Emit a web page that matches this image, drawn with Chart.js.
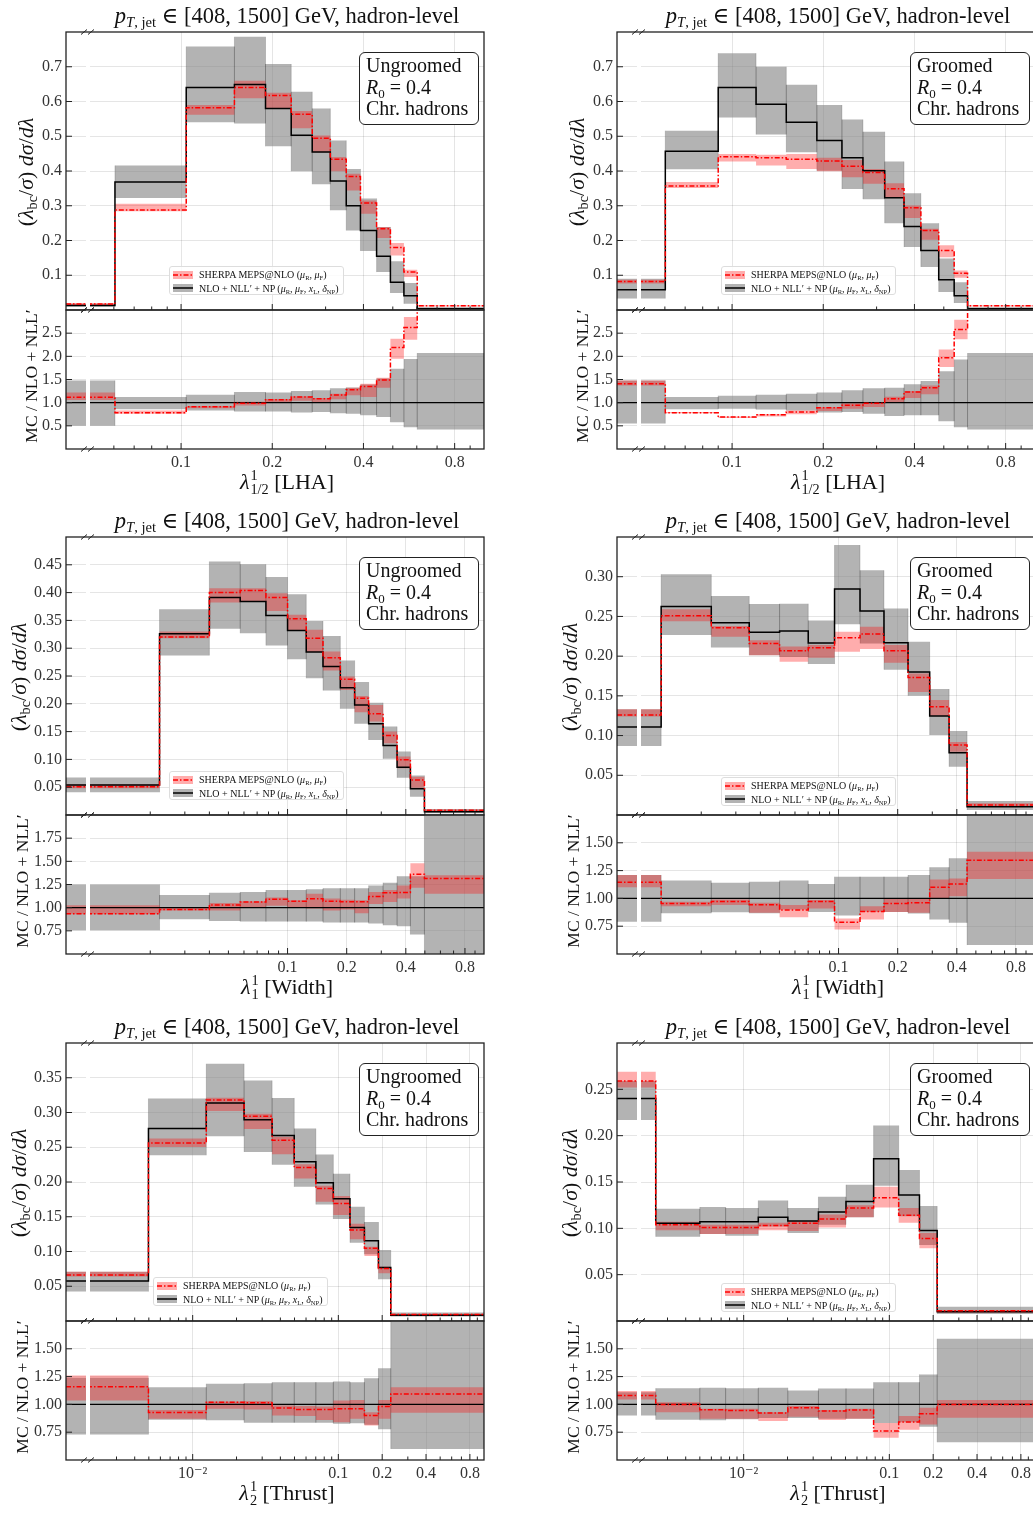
<!DOCTYPE html>
<html>
<head>
<meta charset="utf-8">
<script src="https://cdn.jsdelivr.net/npm/chart.js@4.4.0/dist/chart.umd.min.js"></script>
<style>
  body { margin: 0; width: 1033px; height: 1517px; overflow: hidden; background: #fff; position: relative;
         font-family: "Liberation Serif", "DejaVu Serif", serif; color: #111; }
  canvas { position: absolute; }
  .txt { position: absolute; white-space: nowrap; transform: translate(-50%, -50%); }
  .title { font-size: 22.5px; }
  .xtitle { font-size: 22px; }
  .ytitle { font-size: 22px; transform: translate(-50%, -50%) rotate(-90deg); }
  .rtitle { font-size: 17.5px; transform: translate(-50%, -50%) rotate(-90deg); }
  .ss { display: inline-block; vertical-align: -0.32em; font-size: 0.65em; line-height: 0.95; margin-left: 1px; }
  .ss span { display: block; }
  sub { font-size: 0.65em; vertical-align: -0.3em; line-height: 0; }
  .tbox { position: absolute; box-sizing: border-box; width: 120px; height: 73px; border: 1px solid #222;
          border-radius: 6px; background: #fff; font-size: 20px; line-height: 21.5px; padding: 2px 6px; }
  .legend { position: absolute; box-sizing: border-box; width: 175px; height: 29px; border: 1px solid #ddd;
            border-radius: 3px; background: rgba(255,255,255,0.85); font-size: 10px; padding: 1px 3px;
            white-space: nowrap; overflow: visible; }
  .legend div { height: 13.5px; line-height: 13.5px; display: flex; align-items: center; }
  .legend span { white-space: nowrap; flex: none; }
  .legend svg { margin-right: 6px; flex: none; }
</style>
</head>
<body>
<script>
// ---- axis setups ----
const lhaRange = [0.0417, 1.0];
const widthRange = [0.00745, 1.0];
const thrustRange = [0.00135, 1.0];
const lhaMajor = [0.1, 0.2, 0.4, 0.8];
const lhaMinor = [0.05, 0.06, 0.07, 0.08, 0.09, 0.3, 0.5, 0.6, 0.7, 0.9];
const widthMajor = [0.1, 0.2, 0.4, 0.8];
const widthMinor = [0.02, 0.03, 0.04, 0.05, 0.06, 0.07, 0.08, 0.09, 0.3, 0.5, 0.6, 0.7, 0.9];
const thrustMajor = [0.01, 0.1, 0.2, 0.4, 0.8];
const thrustMinor = [0.002, 0.003, 0.004, 0.005, 0.006, 0.007, 0.008, 0.009, 0.02, 0.03, 0.04, 0.05, 0.06, 0.07, 0.08, 0.09, 0.3, 0.5, 0.6, 0.7, 0.9];

// ---- LHA, ungroomed ----
const lhaUngEdges = [0.0417, 0.0605, 0.104, 0.150, 0.190, 0.231, 0.271, 0.311, 0.351, 0.391, 0.442, 0.491, 0.544, 0.602, 1.0];
const lhaUngNlo   = [0.013, 0.368, 0.640, 0.649, 0.580, 0.503, 0.455, 0.371, 0.300, 0.229, 0.155, 0.080, 0.041, 0.004];
const lhaUngNloLo = [0.009, 0.322, 0.540, 0.537, 0.471, 0.399, 0.362, 0.287, 0.229, 0.170, 0.109, 0.049, 0.018, 0.002];
const lhaUngNloHi = [0.018, 0.416, 0.758, 0.786, 0.708, 0.628, 0.580, 0.488, 0.406, 0.321, 0.239, 0.140, 0.078, 0.006];
const lhaUngMc    = [0.017, 0.288, 0.582, 0.640, 0.617, 0.563, 0.494, 0.434, 0.384, 0.308, 0.234, 0.180, 0.109, 0.012];
const lhaUngMcLo  = [0.014, 0.284, 0.562, 0.609, 0.580, 0.523, 0.454, 0.399, 0.344, 0.277, 0.207, 0.157, 0.095, 0.010];
const lhaUngMcHi  = [0.020, 0.306, 0.590, 0.660, 0.625, 0.573, 0.502, 0.440, 0.392, 0.315, 0.239, 0.193, 0.116, 0.014];
const lhaUngRatio   = [1.115, 0.78, 0.91, 0.99, 1.065, 1.12, 1.085, 1.165, 1.28, 1.35, 1.49, 2.19, 2.62, 4.0];
const lhaUngRatioLo = [1.06, 0.76, 0.88, 0.94, 1.0, 1.04, 1.0, 1.075, 1.16, 1.12, 1.32, 1.95, 2.36, 4.0];
const lhaUngRatioHi = [1.22, 0.83, 0.93, 1.02, 1.08, 1.14, 1.10, 1.19, 1.32, 1.41, 1.54, 2.38, 2.85, 4.0];
const lhaUngUncLo   = [0.50, 0.86, 0.83, 0.81, 0.81, 0.79, 0.80, 0.77, 0.76, 0.73, 0.69, 0.58, 0.47, 0.42];
const lhaUngUncHi   = [1.48, 1.12, 1.17, 1.23, 1.22, 1.25, 1.27, 1.31, 1.33, 1.39, 1.52, 1.73, 1.94, 2.07];

// ---- LHA, groomed ----
const lhaGroEdges = [0.0417, 0.0602, 0.090, 0.120, 0.151, 0.1905, 0.2305, 0.2704, 0.319, 0.3695, 0.420, 0.481, 0.541, 0.599, 1.0];
const lhaGroNlo   = [0.058, 0.457, 0.640, 0.592, 0.540, 0.488, 0.438, 0.401, 0.323, 0.240, 0.171, 0.087, 0.041, 0.004];
const lhaGroNloLo = [0.033, 0.405, 0.554, 0.505, 0.454, 0.401, 0.348, 0.319, 0.250, 0.181, 0.124, 0.052, 0.020, 0.002];
const lhaGroNloHi = [0.090, 0.516, 0.739, 0.700, 0.648, 0.590, 0.548, 0.513, 0.427, 0.336, 0.250, 0.148, 0.080, 0.006];
const lhaGroMc    = [0.082, 0.357, 0.441, 0.438, 0.434, 0.429, 0.414, 0.396, 0.349, 0.294, 0.229, 0.171, 0.106, 0.012];
const lhaGroMcLo  = [0.076, 0.351, 0.427, 0.416, 0.406, 0.399, 0.382, 0.363, 0.325, 0.265, 0.202, 0.152, 0.093, 0.010];
const lhaGroMcHi  = [0.087, 0.368, 0.449, 0.447, 0.449, 0.438, 0.432, 0.406, 0.365, 0.301, 0.234, 0.186, 0.114, 0.014];
const lhaGroRatio   = [1.41, 0.78, 0.69, 0.74, 0.80, 0.89, 0.945, 0.99, 1.085, 1.23, 1.32, 1.97, 2.58, 4.0];
const lhaGroRatioLo = [1.37, 0.77, 0.67, 0.70, 0.75, 0.82, 0.87, 0.905, 1.0, 1.10, 1.18, 1.77, 2.37, 4.0];
const lhaGroRatioHi = [1.48, 0.80, 0.70, 0.755, 0.83, 0.90, 0.99, 1.01, 1.13, 1.25, 1.37, 2.15, 2.79, 4.0];
const lhaGroUncLo   = [0.55, 0.86, 0.87, 0.85, 0.83, 0.79, 0.80, 0.76, 0.71, 0.73, 0.73, 0.60, 0.47, 0.42];
const lhaGroUncHi   = [1.48, 1.12, 1.15, 1.17, 1.19, 1.22, 1.27, 1.31, 1.32, 1.40, 1.47, 1.68, 1.93, 2.07];

// ---- Width, ungroomed ----
const widUngEdges = [0.00745, 0.0223, 0.040, 0.0574, 0.0776, 0.100, 0.1245, 0.1515, 0.1856, 0.2195, 0.2587, 0.3064, 0.361, 0.422, 0.4975, 1.0];
const widUngNlo   = [0.054, 0.326, 0.391, 0.384, 0.359, 0.332, 0.293, 0.267, 0.229, 0.198, 0.164, 0.125, 0.086, 0.047, 0.006];
const widUngNloLo = [0.041, 0.287, 0.335, 0.327, 0.305, 0.280, 0.246, 0.224, 0.191, 0.164, 0.135, 0.101, 0.067, 0.033, 0.003];
const widUngNloHi = [0.0675, 0.370, 0.456, 0.451, 0.428, 0.397, 0.349, 0.322, 0.278, 0.239, 0.202, 0.159, 0.114, 0.071, 0.011];
const widUngMc    = [0.0507, 0.320, 0.400, 0.404, 0.391, 0.353, 0.318, 0.283, 0.244, 0.210, 0.182, 0.143, 0.0993, 0.063, 0.0087];
const widUngMcLo  = [0.048, 0.318, 0.382, 0.384, 0.367, 0.331, 0.293, 0.260, 0.225, 0.185, 0.168, 0.129, 0.084, 0.049, 0.007];
const widUngMcHi  = [0.055, 0.330, 0.408, 0.408, 0.399, 0.360, 0.333, 0.294, 0.249, 0.214, 0.198, 0.150, 0.105, 0.069, 0.010];
const widUngRatio   = [0.935, 0.98, 1.03, 1.06, 1.09, 1.07, 1.095, 1.07, 1.065, 1.065, 1.12, 1.16, 1.165, 1.36, 1.315];
const widUngRatioLo = [0.93, 0.97, 0.97, 1.0, 1.02, 1.0, 0.99, 0.97, 0.98, 0.94, 1.04, 1.06, 1.10, 1.215, 1.15];
const widUngRatioHi = [1.025, 1.0, 1.05, 1.07, 1.11, 1.08, 1.15, 1.10, 1.085, 1.08, 1.17, 1.19, 1.24, 1.48, 1.35];
const widUngUncLo   = [0.756, 0.875, 0.857, 0.85, 0.85, 0.85, 0.85, 0.84, 0.84, 0.84, 0.83, 0.81, 0.80, 0.71, 0.40];
const widUngUncHi   = [1.25, 1.136, 1.16, 1.17, 1.19, 1.19, 1.20, 1.21, 1.21, 1.21, 1.24, 1.27, 1.34, 1.34, 2.10];

// ---- Width, groomed ----
const widGroEdges = [0.00745, 0.0125, 0.0225, 0.0351, 0.0501, 0.0701, 0.0954, 0.1286, 0.1703, 0.2258, 0.291, 0.3654, 0.451, 1.0];
const widGroNlo   = [0.1107, 0.2626, 0.242, 0.230, 0.2315, 0.2164, 0.2844, 0.2567, 0.2169, 0.180, 0.1246, 0.0784, 0.0105];
const widGroNloLo = [0.087, 0.2265, 0.211, 0.201, 0.199, 0.190, 0.240, 0.216, 0.183, 0.150, 0.1007, 0.0608, 0.0063];
const widGroNloHi = [0.133, 0.303, 0.2756, 0.2655, 0.266, 0.245, 0.3398, 0.308, 0.260, 0.218, 0.1586, 0.1057, 0.0176];
const widGroMc    = [0.126, 0.251, 0.2357, 0.216, 0.2068, 0.2106, 0.2232, 0.2278, 0.2068, 0.1732, 0.1363, 0.088, 0.0126];
const widGroMcLo  = [0.124, 0.244, 0.2244, 0.201, 0.193, 0.198, 0.2055, 0.209, 0.1917, 0.155, 0.125, 0.0797, 0.0105];
const widGroMcHi  = [0.133, 0.259, 0.238, 0.220, 0.212, 0.214, 0.2307, 0.237, 0.214, 0.178, 0.1447, 0.092, 0.0147];
const widGroRatio   = [1.145, 0.955, 0.973, 0.943, 0.895, 0.973, 0.786, 0.882, 0.955, 0.96, 1.10, 1.13, 1.343];
const widGroRatioLo = [1.10, 0.93, 0.94, 0.87, 0.83, 0.91, 0.72, 0.81, 0.877, 0.87, 1.0, 1.02, 1.175];
const widGroRatioHi = [1.21, 0.97, 0.99, 0.96, 0.94, 0.985, 0.82, 0.93, 1.0, 1.0, 1.17, 1.18, 1.42];
const widGroUncLo   = [0.79, 0.867, 0.876, 0.867, 0.90, 0.877, 0.846, 0.88, 0.877, 0.865, 0.81, 0.78, 0.58];
const widGroUncHi   = [1.21, 1.16, 1.14, 1.15, 1.16, 1.13, 1.195, 1.195, 1.195, 1.21, 1.28, 1.36, 1.80];

// ---- Thrust, ungroomed ----
const thrUngEdges = [0.00135, 0.00497, 0.0124, 0.02254, 0.0351, 0.0498, 0.0701, 0.0924, 0.1202, 0.151, 0.1885, 0.229, 1.0];
const thrUngNlo   = [0.0577, 0.277, 0.3136, 0.2897, 0.267, 0.229, 0.1988, 0.1758, 0.1347, 0.1155, 0.0768, 0.0084];
const thrUngNloLo = [0.0423, 0.2385, 0.266, 0.2433, 0.225, 0.193, 0.1677, 0.1467, 0.1127, 0.0959, 0.060, 0.0065];
const thrUngNloHi = [0.071, 0.320, 0.370, 0.346, 0.321, 0.2768, 0.2395, 0.212, 0.1643, 0.1423, 0.102, 0.0122];
const thrUngMc    = [0.0663, 0.256, 0.318, 0.2945, 0.260, 0.2208, 0.1906, 0.169, 0.1309, 0.1045, 0.0754, 0.0093];
const thrUngMcLo  = [0.064, 0.2505, 0.302, 0.2763, 0.240, 0.205, 0.1715, 0.1524, 0.1175, 0.0935, 0.0687, 0.0078];
const thrUngMcHi  = [0.071, 0.2625, 0.3213, 0.2983, 0.265, 0.2256, 0.1945, 0.1797, 0.140, 0.107, 0.078, 0.0105];
const thrUngRatio   = [1.158, 0.928, 1.02, 1.015, 0.967, 0.955, 0.955, 0.96, 0.96, 0.90, 0.98, 1.093];
const thrUngRatioLo = [1.036, 0.87, 0.96, 0.955, 0.90, 0.895, 0.86, 0.84, 0.87, 0.81, 0.87, 0.925];
const thrUngRatioHi = [1.26, 0.95, 1.025, 1.03, 0.99, 0.985, 0.98, 1.035, 1.04, 0.93, 1.04, 1.155];
const thrUngUncLo   = [0.73, 0.863, 0.857, 0.836, 0.836, 0.836, 0.836, 0.827, 0.83, 0.818, 0.776, 0.60];
const thrUngUncHi   = [1.24, 1.155, 1.185, 1.19, 1.20, 1.20, 1.20, 1.205, 1.20, 1.236, 1.325, 1.80];

// ---- Thrust, groomed ----
const thrGroEdges = [0.00135, 0.00249, 0.0050, 0.00752, 0.0126, 0.0201, 0.0326, 0.0504, 0.078, 0.1159, 0.161, 0.213, 1.0];
const thrGroNlo   = [0.240, 0.1056, 0.107, 0.107, 0.112, 0.108, 0.1175, 0.129, 0.175, 0.136, 0.0977, 0.010];
const thrGroNloLo = [0.217, 0.091, 0.094, 0.092, 0.102, 0.095, 0.104, 0.112, 0.146, 0.113, 0.082, 0.0076];
const thrGroNloHi = [0.259, 0.121, 0.123, 0.122, 0.130, 0.122, 0.134, 0.147, 0.211, 0.163, 0.124, 0.0155];
const thrGroMc    = [0.259, 0.104, 0.101, 0.101, 0.103, 0.1056, 0.110, 0.122, 0.133, 0.114, 0.089, 0.011];
const thrGroMcLo  = [0.252, 0.098, 0.094, 0.094, 0.098, 0.097, 0.101, 0.112, 0.1226, 0.106, 0.0786, 0.009];
const thrGroMcHi  = [0.269, 0.107, 0.104, 0.104, 0.106, 0.108, 0.115, 0.125, 0.145, 0.122, 0.095, 0.012];
const thrGroRatio   = [1.08, 1.0, 0.952, 0.946, 0.922, 0.97, 0.94, 0.95, 0.76, 0.842, 0.916, 1.0];
const thrGroRatioLo = [1.045, 0.93, 0.87, 0.87, 0.85, 0.89, 0.86, 0.87, 0.70, 0.773, 0.82, 0.88];
const thrGroRatioHi = [1.12, 1.02, 0.96, 0.96, 0.93, 0.985, 0.95, 0.96, 0.833, 0.895, 0.97, 1.04];
const thrGroUncLo   = [0.90, 0.863, 0.857, 0.866, 0.878, 0.878, 0.87, 0.87, 0.833, 0.84, 0.80, 0.66];
const thrGroUncHi   = [1.11, 1.146, 1.15, 1.146, 1.15, 1.125, 1.143, 1.143, 1.20, 1.20, 1.27, 1.59];

// ---- y tick labels ----
const lhaMainTicks = [0.1, 0.2, 0.3, 0.4, 0.5, 0.6, 0.7];
const widUngMainTicks = [0.05, 0.10, 0.15, 0.20, 0.25, 0.30, 0.35, 0.40, 0.45];
const widGroMainTicks = [0.05, 0.10, 0.15, 0.20, 0.25, 0.30];
const thrUngMainTicks = [0.05, 0.10, 0.15, 0.20, 0.25, 0.30, 0.35];
const thrGroMainTicks = [0.05, 0.10, 0.15, 0.20, 0.25];
const lhaRatioTicks = [0.5, 1.0, 1.5, 2.0, 2.5];
const widUngRatioTicks = [0.75, 1.00, 1.25, 1.50, 1.75];
const smallRatioTicks = [0.75, 1.00, 1.25, 1.50];

const FONT = '"Liberation Serif", "DejaVu Serif", serif';
const COLS = [66, 617];
const ROWS = [32, 537, 1043];
const MAIN_H = 278, RATIO_H = 139, PLOT_W = 418, AXIS_W = 66, PAD = 14, XLAB_H = 30;
const GRAY = 'rgba(128,128,128,0.6)';
const PINK = 'rgba(255,0,0,0.32)';

const LHA_T = '<i>λ</i><span class="ss"><span>1</span><span>1/2</span></span> [LHA]';
const WID_T = '<i>λ</i><span class="ss"><span>1</span><span>1</span></span> [Width]';
const THR_T = '<i>λ</i><span class="ss"><span>1</span><span>2</span></span> [Thrust]';

const panels = [
    { col: 0, row: 0, tag: 'Ungroomed', xTitle: LHA_T, range: lhaRange, majors: lhaMajor, minors: lhaMinor,
      edges: lhaUngEdges, nlo: lhaUngNlo, nloLo: lhaUngNloLo, nloHi: lhaUngNloHi, mc: lhaUngMc, mcLo: lhaUngMcLo, mcHi: lhaUngMcHi,
      ratio: lhaUngRatio, ratioLo: lhaUngRatioLo, ratioHi: lhaUngRatioHi, uncLo: lhaUngUncLo, uncHi: lhaUngUncHi,
      yMax: 0.8, yTicks: lhaMainTicks, yDec: 1, rMin: 0, rMax: 3, rTicks: lhaRatioTicks, rDec: 1, leg: [103, 234] },
    { col: 1, row: 0, tag: 'Groomed', xTitle: LHA_T, range: lhaRange, majors: lhaMajor, minors: lhaMinor,
      edges: lhaGroEdges, nlo: lhaGroNlo, nloLo: lhaGroNloLo, nloHi: lhaGroNloHi, mc: lhaGroMc, mcLo: lhaGroMcLo, mcHi: lhaGroMcHi,
      ratio: lhaGroRatio, ratioLo: lhaGroRatioLo, ratioHi: lhaGroRatioHi, uncLo: lhaGroUncLo, uncHi: lhaGroUncHi,
      yMax: 0.8, yTicks: lhaMainTicks, yDec: 1, rMin: 0, rMax: 3, rTicks: lhaRatioTicks, rDec: 1, leg: [104, 234] },
    { col: 0, row: 1, tag: 'Ungroomed', xTitle: WID_T, range: widthRange, majors: widthMajor, minors: widthMinor,
      edges: widUngEdges, nlo: widUngNlo, nloLo: widUngNloLo, nloHi: widUngNloHi, mc: widUngMc, mcLo: widUngMcLo, mcHi: widUngMcHi,
      ratio: widUngRatio, ratioLo: widUngRatioLo, ratioHi: widUngRatioHi, uncLo: widUngUncLo, uncHi: widUngUncHi,
      yMax: 0.5, yTicks: widUngMainTicks, yDec: 2, rMin: 0.5, rMax: 2.0, rTicks: widUngRatioTicks, rDec: 2, leg: [103, 234] },
    { col: 1, row: 1, tag: 'Groomed', xTitle: WID_T, range: widthRange, majors: widthMajor, minors: widthMinor,
      edges: widGroEdges, nlo: widGroNlo, nloLo: widGroNloLo, nloHi: widGroNloHi, mc: widGroMc, mcLo: widGroMcLo, mcHi: widGroMcHi,
      ratio: widGroRatio, ratioLo: widGroRatioLo, ratioHi: widGroRatioHi, uncLo: widGroUncLo, uncHi: widGroUncHi,
      yMax: 0.35, yTicks: widGroMainTicks, yDec: 2, rMin: 0.5, rMax: 1.75, rTicks: smallRatioTicks, rDec: 2, leg: [104, 240] },
    { col: 0, row: 2, tag: 'Ungroomed', xTitle: THR_T, range: thrustRange, majors: thrustMajor, minors: thrustMinor,
      edges: thrUngEdges, nlo: thrUngNlo, nloLo: thrUngNloLo, nloHi: thrUngNloHi, mc: thrUngMc, mcLo: thrUngMcLo, mcHi: thrUngMcHi,
      ratio: thrUngRatio, ratioLo: thrUngRatioLo, ratioHi: thrUngRatioHi, uncLo: thrUngUncLo, uncHi: thrUngUncHi,
      yMax: 0.4, yTicks: thrUngMainTicks, yDec: 2, rMin: 0.5, rMax: 1.75, rTicks: smallRatioTicks, rDec: 2, leg: [87, 234] },
    { col: 1, row: 2, tag: 'Groomed', xTitle: THR_T, range: thrustRange, majors: thrustMajor, minors: thrustMinor,
      edges: thrGroEdges, nlo: thrGroNlo, nloLo: thrGroNloLo, nloHi: thrGroNloHi, mc: thrGroMc, mcLo: thrGroMcLo, mcHi: thrGroMcHi,
      ratio: thrGroRatio, ratioLo: thrGroRatioLo, ratioHi: thrGroRatioHi, uncLo: thrGroUncLo, uncHi: thrGroUncHi,
      yMax: 0.30, yTicks: thrGroMainTicks, yDec: 2, rMin: 0.5, rMax: 1.75, rTicks: smallRatioTicks, rDec: 2, leg: [104, 240] }
];

/*== histogram helpers ==*/
function steps(edges, vals) {
    return edges.map((e, i) => ({ x: e, y: vals[Math.min(i, vals.length - 1)] }));
}

function histLine(edges, vals, color, width, dash) {
    return { data: steps(edges, vals), stepped: 'before', borderColor: color, borderWidth: width,
             borderDash: dash || [], pointRadius: 0, fill: false };
}

function band(edges, lo, hi, color) {
    return [
        { data: steps(edges, hi), stepped: 'before', borderColor: 'transparent', borderWidth: 0,
          backgroundColor: color, pointRadius: 0, fill: '+1' },
        { data: steps(edges, lo), stepped: 'before', borderColor: 'transparent', borderWidth: 0,
          pointRadius: 0, fill: false }
    ];
}

// thin darker sides of every uncertainty box
function boxSides(edges, lo, hi) {
    const pts = [];
    lo.forEach((l, i) => {
        [edges[i], edges[i + 1]].forEach(e => {
            pts.push({ x: e, y: l }, { x: e, y: hi[i] }, { x: e, y: null });
        });
    });
    return { data: pts, borderColor: 'rgba(0,0,0,0.16)', borderWidth: 1, pointRadius: 0, fill: false };
}

/*== scales ==*/
function xScale(p, labels) {
    return {
        type: 'logarithmic', min: p.range[0], max: p.range[1],
        afterBuildTicks: s => { s.ticks = p.majors.map(v => ({ value: v })); },
        afterFit: s => { s.height = labels ? XLAB_H : 0; },
        ticks: { display: labels, autoSkip: false, maxRotation: 0, padding: 4, color: '#333',
                 font: { family: FONT, size: 16 },
                 callback: v => v === 0.01 ? '10⁻²' : String(v) },
        grid: { color: 'rgba(0,0,0,0.1)', drawTicks: false },
        border: { display: false }
    };
}

function yScale(min, max, ticks, dec) {
    return {
        type: 'linear', min: min, max: max,
        afterBuildTicks: s => { s.ticks = ticks.map(v => ({ value: v })); },
        afterFit: s => { s.width = AXIS_W; },
        ticks: { autoSkip: false, padding: 4, color: '#333', font: { family: FONT, size: 16 },
                 callback: v => v.toFixed(dec) },
        grid: { color: 'rgba(0,0,0,0.1)', drawTicks: false },
        border: { display: false }
    };
}

/*== frame, inward ticks and the axis break ==*/
function decor(p) {
    return {
        id: 'decor',
        afterDatasetsDraw(chart) {
            const { ctx, chartArea: a, scales: { x, y } } = chart;
            const gap = a.left + 20;
            ctx.save();
            ctx.fillStyle = '#fff';
            ctx.fillRect(gap, a.top, 4, a.bottom - a.top);

            ctx.strokeStyle = '#222';
            ctx.lineWidth = 1;
            ctx.beginPath();
            p.majors.forEach(v => {
                const px = x.getPixelForValue(v);
                ctx.moveTo(px, a.bottom); ctx.lineTo(px, a.bottom - 6);
            });
            p.minors.forEach(v => {
                const px = x.getPixelForValue(v);
                if (px < gap + 5 || px > a.right) return;
                ctx.moveTo(px, a.bottom); ctx.lineTo(px, a.bottom - 3.5);
            });
            y.ticks.forEach(t => {
                const py = y.getPixelForValue(t.value);
                ctx.moveTo(a.left, py); ctx.lineTo(a.left + 6, py);
            });
            ctx.stroke();

            ctx.lineWidth = 1.3;
            ctx.strokeRect(a.left, a.top, a.right - a.left, a.bottom - a.top);

            // "//" marks at the break
            ctx.lineWidth = 1;
            ctx.beginPath();
            [a.top, a.bottom].forEach(yy => {
                [gap - 2, gap + 5].forEach(cx => {
                    ctx.moveTo(cx - 3, yy + 2.5); ctx.lineTo(cx + 3, yy - 2.5);
                });
            });
            ctx.stroke();
            ctx.restore();
        }
    };
}

function makeChart(left, top, height, datasets, scales, p) {
    const canvas = document.createElement('canvas');
    canvas.width = AXIS_W + PLOT_W + PAD;
    canvas.height = height;
    canvas.style.left = left + 'px';
    canvas.style.top = top + 'px';
    document.body.appendChild(canvas);
    return new Chart(canvas.getContext('2d'), {
        type: 'line',
        data: { datasets: datasets },
        options: {
            responsive: false,
            animation: false,
            events: [],
            layout: { autoPadding: false, padding: { left: 0, right: PAD, top: PAD, bottom: PAD } },
            plugins: { legend: { display: false }, tooltip: { enabled: false } },
            scales: scales
        },
        plugins: [decor(p)]
    });
}

function addText(cls, x, y, html) {
    const d = document.createElement('div');
    d.className = cls;
    d.style.left = x + 'px';
    d.style.top = y + 'px';
    d.innerHTML = html;
    document.body.appendChild(d);
    return d;
}

const redHandle = '<svg width="20" height="8"><rect width="20" height="8" fill="' + PINK + '"/>' +
    '<line x1="0" y1="4" x2="20" y2="4" stroke="red" stroke-width="1.5" stroke-dasharray="5 2 1.5 2"/></svg>';
const blackHandle = '<svg width="20" height="8"><rect width="20" height="8" fill="' + GRAY + '"/>' +
    '<line x1="0" y1="4" x2="20" y2="4" stroke="#000" stroke-width="1.5"/></svg>';

panels.forEach(p => {
    const x0 = COLS[p.col];
    const y0 = ROWS[p.row];
    const r0 = y0 + MAIN_H;
    // y titles sit further out when tick labels have two decimals
    const yOff = p.yDec === 1 ? -40 : -47;
    const rOff = p.rDec === 1 ? -35 : -44;

    makeChart(x0 - AXIS_W, y0 - PAD, PAD + MAIN_H + PAD, [
        histLine(p.edges, p.mc, 'red', 1.5, [5, 2, 1.5, 2]),
        histLine(p.edges, p.nlo, '#000', 1.5),
        ...band(p.edges, p.mcLo, p.mcHi, PINK),
        boxSides(p.edges, p.nloLo, p.nloHi),
        ...band(p.edges, p.nloLo, p.nloHi, GRAY)
    ], { x: xScale(p, false), y: yScale(0, p.yMax, p.yTicks, p.yDec) }, p);

    const ends = [p.edges[0], p.edges[p.edges.length - 1]];
    makeChart(x0 - AXIS_W, r0 - PAD, PAD + RATIO_H + XLAB_H + PAD, [
        histLine(p.edges, p.ratio, 'red', 1.5, [5, 2, 1.5, 2]),
        { data: ends.map(e => ({ x: e, y: 1 })), borderColor: '#000', borderWidth: 1.2, pointRadius: 0, fill: false },
        ...band(p.edges, p.ratioLo, p.ratioHi, PINK),
        boxSides(p.edges, p.uncLo, p.uncHi),
        ...band(p.edges, p.uncLo, p.uncHi, GRAY)
    ], { x: xScale(p, true), y: yScale(p.rMin, p.rMax, p.rTicks, p.rDec) }, p);

    addText('txt title', x0 + 221, y0 - 17,
        '<i>p</i><sub><i>T</i>, jet</sub> ∈ [408, 1500] GeV, hadron-level');
    addText('txt xtitle', x0 + 221, r0 + RATIO_H + 34, p.xTitle);
    addText('txt ytitle', x0 + yOff, y0 + MAIN_H / 2 + 1,
        '(<i>λ</i><sub>bc</sub>/<i>σ</i>) <i>dσ</i>/<i>dλ</i>');
    addText('txt rtitle', x0 + rOff, r0 + RATIO_H / 2 - 4, 'MC / NLO + NLL′');

    addText('tbox', x0 + 293, y0 + 20,
        p.tag + '<br><i>R</i><sub>0</sub> = 0.4<br>Chr. hadrons');

    addText('legend', x0 + p.leg[0], y0 + p.leg[1],
        '<div>' + redHandle + '<span>SHERPA MEPS@NLO (<i>μ</i><sub>R</sub>, <i>μ</i><sub>F</sub>)</span></div>' +
        '<div>' + blackHandle + '<span>NLO + NLL′ + NP (<i>μ</i><sub>R</sub>, <i>μ</i><sub>F</sub>, <i>x</i><sub>L</sub>, <i>δ</i><sub>NP</sub>)</span></div>');
});
</script>
</body>
</html>
